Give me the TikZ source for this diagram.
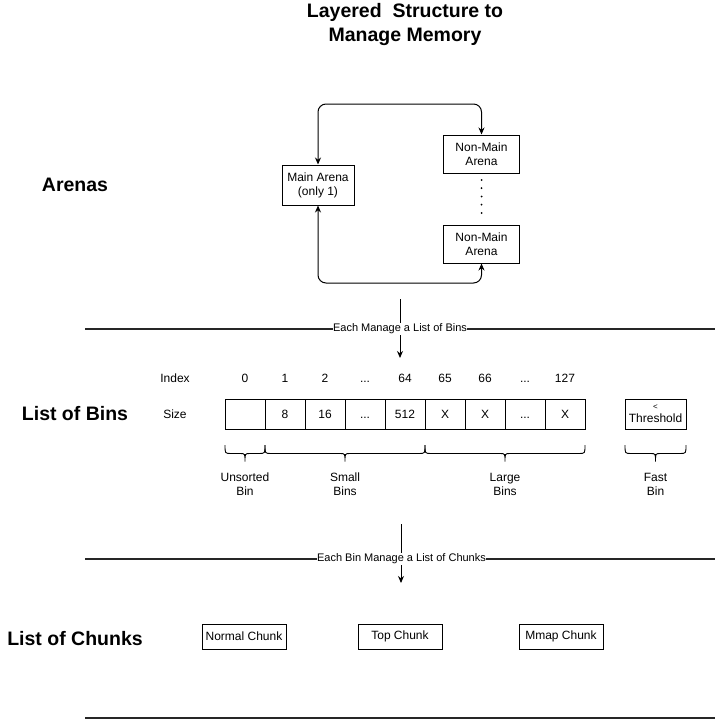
\documentclass[tikz,border=0pt]{standalone}
\usepackage{fontspec}
\setmainfont{Liberation Sans}
\usetikzlibrary{arrows.meta,calc}
\newcommand\myell{\vphantom{0}...}
\begin{document}
\begin{tikzpicture}[x=1pt,y=-1pt,
  box/.style={draw, line width=1pt, inner sep=0pt, align=center, font=\fontsize{12}{14}\selectfont},
  cell/.style={box, minimum width=40pt, minimum height=30pt},
  lbl/.style={font=\fontsize{12}{14}\selectfont, inner sep=0pt, align=center},
  head/.style={font=\fontsize{19.5}{24}\selectfont\bfseries, inner sep=0pt, align=center},
  arr/.style={-{Stealth[length=7pt,width=6pt]}, line width=1pt},
  biarr/.style={{Stealth[length=7pt,width=6pt]}-{Stealth[length=7pt,width=6pt]}, line width=1pt, rounded corners=8pt},
  divider/.style={line width=2pt, draw=black!85},
  divlabel/.style={font=\fontsize{11}{13}\selectfont, fill=white, inner sep=0.5pt},
  bracestyle/.style={line width=0.9pt}]
\useasboundingbox (0,0) rectangle (717,725);

% title
\node[head] (title) at (405,25) {Layered~~Structure to\\Manage Memory};

% arenas
\node[head] (hA) at (75,185) {Arenas};
\node[box, minimum width=72pt, minimum height=40pt] (main) at (318,185) {Main Arena\\(only 1)};
\node[box, minimum width=76pt, minimum height=38pt] (nm1) at (481.5,154) {Non-Main\\Arena};
\node[box, minimum width=76pt, minimum height=38pt] (nm2) at (481.5,244) {Non-Main\\Arena};
\draw[biarr] (main.north) -- (main.north |- 0,104) -- (nm1.north |- 0,104) -- (nm1.north);
\draw[biarr] (main.south) -- (main.south |- 0,283) -- (nm2.south |- 0,283) -- (nm2.south);
\foreach \yy in {180,188.2,196.5,204.7,213} \fill (481.5,\yy) circle (1pt);

% divider 1
\coordinate (d1l) at (85,329);
\coordinate (d1r) at (715,329);
\draw[divider] (d1l) -- (d1r);
\coordinate (a1s) at (400,299);
\coordinate (a1e) at (400,358);
\draw[arr] (a1s) -- (a1e);
\node[divlabel] (d1t) at (400,329) {Each Manage a List of Bins};

% bins
\node[head] (hB) at (75,414) {List of Bins};
\node[lbl] (idx) at (175,378) {Index};
\node[lbl] (size) at (175,414) {Size};
\foreach \ix/\sz [count=\k from 0] in {0/{},1/8,2/16,\myell/\myell,64/512,65/X,66/X,\myell/\myell,127/X} {
  \node[cell] (c\k) at (245+40*\k,414) {\sz};
  \node[lbl] (i\k) at (245+40*\k,378) {\ix};
}
\node[box, minimum width=61pt, minimum height=30pt] (thr) at (655.5,414) {{\fontsize{8}{8}\selectfont <}\\[-1pt]Threshold};

\foreach \a/\b in {225/265,265/425,425/585,625/686} {
  \pgfmathsetmacro\m{(\a+\b)/2}
  \draw[bracestyle] (\a,445) .. controls (\a,453.5) .. (\a+6,453.5) -- (\m-5,453.5) .. controls (\m,453.5) .. (\m,461.5)
     .. controls (\m,453.5) .. (\m+5,453.5) -- (\b-6,453.5) .. controls (\b,453.5) .. (\b,445);
}
\node[lbl] (bu) at (245,484) {Unsorted\\Bin};
\node[lbl] (bs) at (345,484) {Small\\Bins};
\node[lbl] (bl) at (505,484) {Large\\Bins};
\node[lbl] (bf) at (655.5,484) {Fast\\Bin};

% divider 2
\coordinate (d2l) at (85,559);
\coordinate (d2r) at (715,559);
\draw[divider] (d2l) -- (d2r);
\coordinate (a2s) at (401,524);
\coordinate (a2e) at (401,583);
\draw[arr] (a2s) -- (a2e);
\node[divlabel] (d2t) at (401.5,559) {Each Bin Manage a List of Chunks};

% chunks
\node[head] (hC) at (75,639) {List of Chunks};
\node[box, minimum width=84pt, minimum height=25pt] (nc) at (244,636.5) {Normal Chunk};
\node[box, minimum width=84pt, minimum height=25pt] (tc) at (400,636.5) {Top Chunk};
\node[box, minimum width=84pt, minimum height=25pt] (mc) at (561,636.5) {Mmap Chunk};

% divider 3
\coordinate (d3l) at (85,718);
\coordinate (d3r) at (715,718);
\draw[divider] (d3l) -- (d3r);
\end{tikzpicture}
\end{document}
